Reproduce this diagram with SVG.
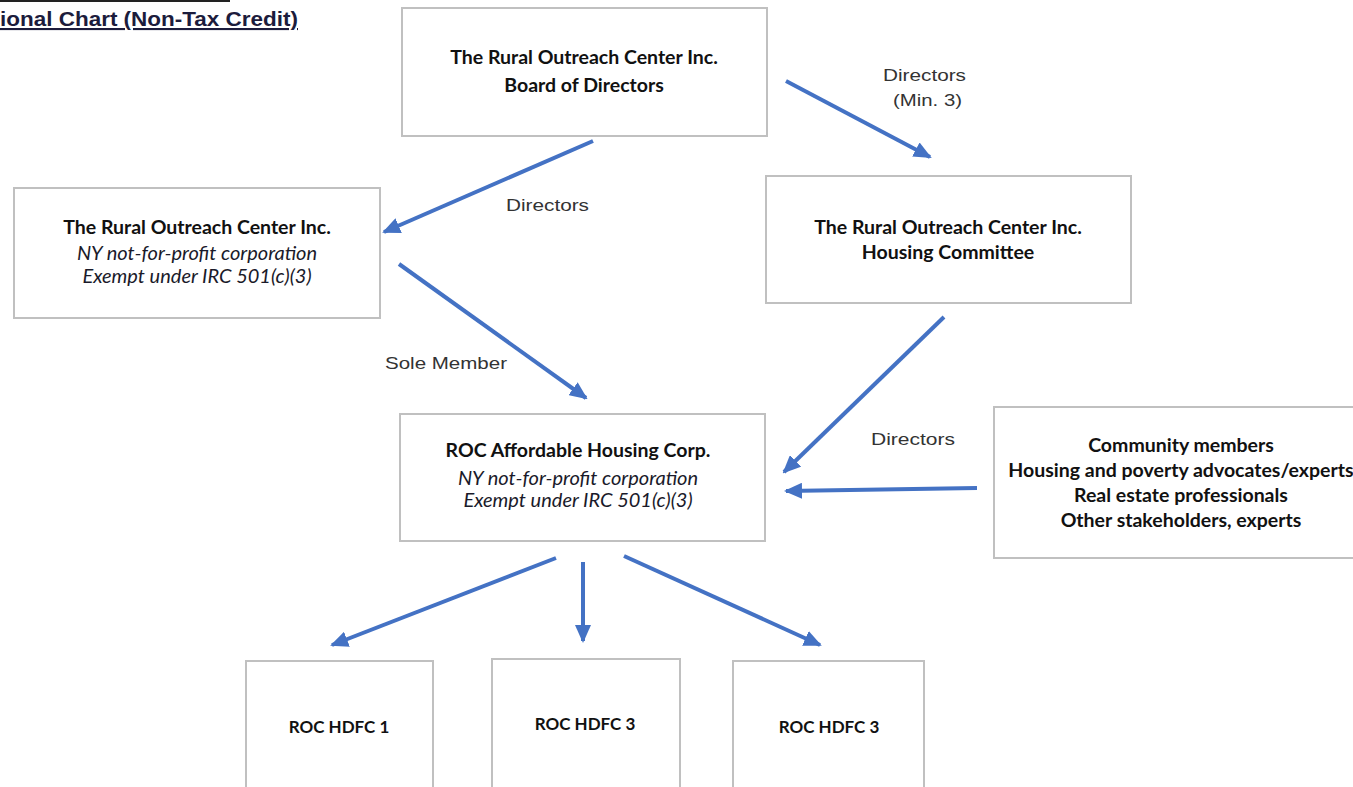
<svg xmlns="http://www.w3.org/2000/svg" width="1353" height="787" viewBox="0 0 1353 787">
<style>
.box{fill:#fff;stroke:#c0c0c0;stroke-width:2}
.b{font-family:Lato,"Liberation Sans",sans-serif;font-weight:bold;font-size:19.5px;fill:#111;text-anchor:middle}
.h{font-size:17px}
.i{font-family:Lato,"Liberation Sans",sans-serif;font-style:italic;font-size:20px;fill:#1a1a2a;text-anchor:middle}
.lbl{font-family:"Liberation Sans",Arial,sans-serif;font-size:17px;fill:#333}
.c{stroke:#4472C4;stroke-width:4;fill:none;marker-end:url(#ah)}
</style>
<defs>
<marker id="ah" markerUnits="userSpaceOnUse" viewBox="0 0 18 16" refX="16" refY="8" markerWidth="18" markerHeight="16" orient="auto">
<path d="M0,0 L18,8 L0,16 z" fill="#4472C4"/>
</marker>
</defs>
<rect width="1353" height="787" fill="#fff"/>
<g id="title">
<line x1="0" y1="1" x2="230" y2="1" stroke="#222" stroke-width="2"/>
<text x="0" y="26" font-family="'Liberation Sans',Arial,sans-serif" font-weight="bold" font-size="21" fill="#1c1c3c" text-decoration="underline" textLength="298" lengthAdjust="spacingAndGlyphs">ional Chart (Non-Tax Credit)</text>
</g>
<g id="connectors">
<line class="c" x1="786" y1="81" x2="930" y2="157"/>
<line class="c" x1="593" y1="141" x2="384" y2="232"/>
<line class="c" x1="399" y1="264" x2="586" y2="398"/>
<line class="c" x1="944" y1="317" x2="784" y2="472"/>
<line class="c" x1="977" y1="488" x2="786" y2="491"/>
<line class="c" x1="556" y1="558" x2="332" y2="645"/>
<line class="c" x1="583" y1="562" x2="583" y2="641"/>
<line class="c" x1="624" y1="556" x2="820" y2="645"/>
<text class="lbl" x="883" y="81" textLength="83" lengthAdjust="spacingAndGlyphs">Directors</text>
<text class="lbl" x="893" y="106" textLength="69" lengthAdjust="spacingAndGlyphs">(Min. 3)</text>
<text class="lbl" x="506" y="211" textLength="83" lengthAdjust="spacingAndGlyphs">Directors</text>
<text class="lbl" x="385" y="369" textLength="122" lengthAdjust="spacingAndGlyphs">Sole Member</text>
<text class="lbl" x="871" y="445" textLength="84" lengthAdjust="spacingAndGlyphs">Directors</text>
</g>
<g id="board">
<rect class="box" x="402" y="8" width="365" height="128"/>
<text class="b" x="584" y="64">The Rural Outreach Center Inc.</text>
<text class="b" x="584" y="92">Board of Directors</text>
</g>
<g id="roc-inc">
<rect class="box" x="14" y="188" width="366" height="130"/>
<text class="b" x="197" y="234">The Rural Outreach Center Inc.</text>
<text class="i" x="197" y="260">NY not-for-profit corporation</text>
<text class="i" x="197" y="283">Exempt under IRC 501(c)(3)</text>
</g>
<g id="housing-committee">
<rect class="box" x="766" y="176" width="365" height="127"/>
<text class="b" x="948" y="234">The Rural Outreach Center Inc.</text>
<text class="b" x="948" y="259">Housing Committee</text>
</g>
<g id="roc-ahc">
<rect class="box" x="400" y="414" width="365" height="127"/>
<text class="b" x="578" y="457">ROC Affordable Housing Corp.</text>
<text class="i" x="578" y="485">NY not-for-profit corporation</text>
<text class="i" x="578" y="507">Exempt under IRC 501(c)(3)</text>
</g>
<g id="community">
<rect class="box" x="994" y="407" width="370" height="151"/>
<text class="b" x="1181" y="452">Community members</text>
<text class="b" x="1181" y="477">Housing and poverty advocates/experts</text>
<text class="b" x="1181" y="502">Real estate professionals</text>
<text class="b" x="1181" y="527">Other stakeholders, experts</text>
</g>
<g id="hdfc1">
<rect class="box" x="246" y="661" width="187" height="140"/>
<text class="b h" x="339" y="733">ROC HDFC 1</text>
</g>
<g id="hdfc2">
<rect class="box" x="492" y="659" width="188" height="140"/>
<text class="b h" x="585" y="730">ROC HDFC 3</text>
</g>
<g id="hdfc3">
<rect class="box" x="733" y="661" width="191" height="140"/>
<text class="b h" x="829" y="733">ROC HDFC 3</text>
</g>
</svg>
